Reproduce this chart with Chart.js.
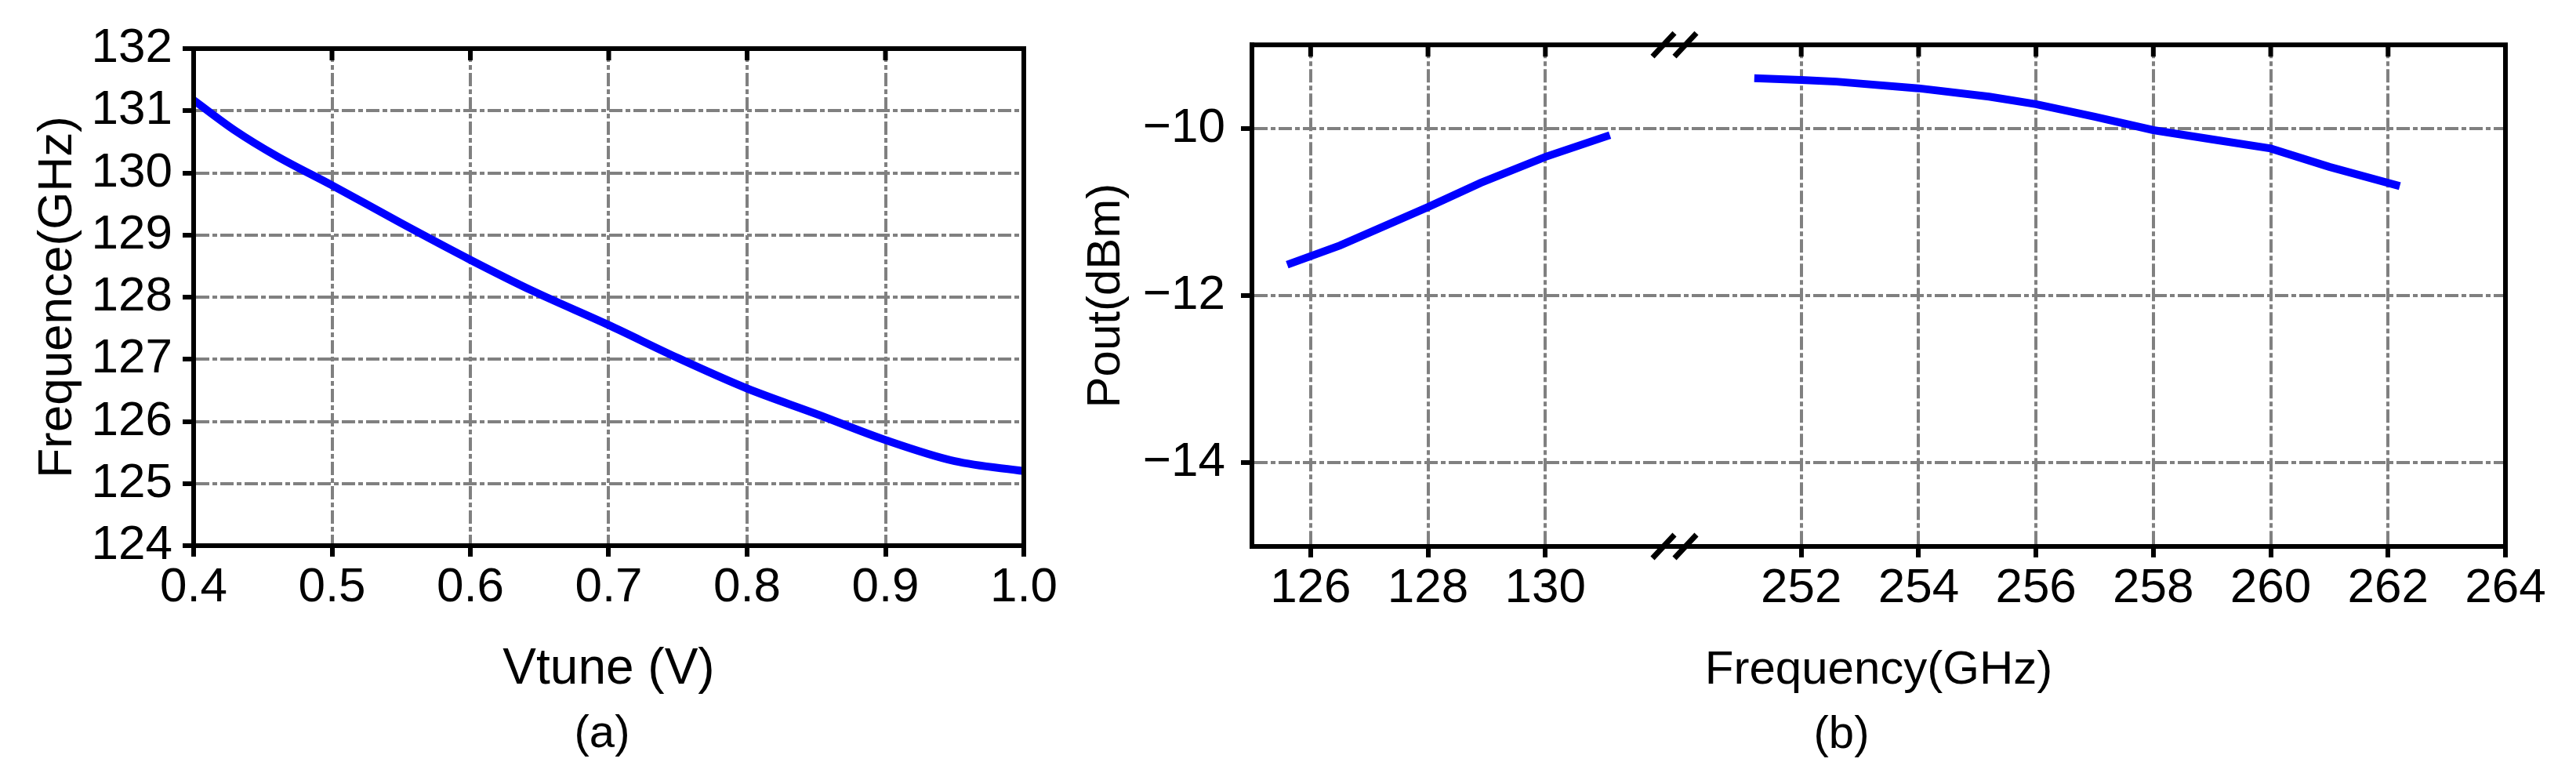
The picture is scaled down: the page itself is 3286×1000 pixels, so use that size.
<!DOCTYPE html>
<html>
<head>
<meta charset="utf-8">
<script src="https://cdn.jsdelivr.net/npm/chart.js@4.4.1/dist/chart.umd.min.js"></script>
<style>
    body { margin: 0; background: #fff; overflow: hidden; }
    .pane { position: absolute; top: 0; }
    .caption {
        position: absolute;
        font-family: 'Liberation Sans', Arial, sans-serif;
        font-size: 58px;
        line-height: 1;
        transform: translate(-50%, -50%);
        color: #000;
    }
</style>
</head>
<body>
<div class="pane" style="left:0;width:1400px;height:1000px"><canvas id="tuneGraph" width="1400" height="1000"></canvas></div>
<div class="pane" style="left:1340px;width:1946px;height:1000px"><canvas id="poutGraph" width="1946" height="1000"></canvas></div>
<div class="caption" style="left:768px;top:933px">(a)</div>
<div class="caption" style="left:2349px;top:934px">(b)</div>
<script>
// (a) tuning curve
const vtune = [0.40, 0.43, 0.46, 0.50, 0.55, 0.60, 0.645, 0.70, 0.75, 0.80, 0.85, 0.90, 0.95, 1.00];
const freqA = [131.17, 130.68, 130.27, 129.80, 129.19, 128.60, 128.10, 127.55, 127.02, 126.53, 126.12, 125.70, 125.36, 125.20];
const vtuneTicks = [0.4, 0.5, 0.6, 0.7, 0.8, 0.9, 1.0];
const freqTicksA = [124, 125, 126, 127, 128, 129, 130, 131, 132];

// (b) output power, fundamental and second harmonic band
const lowFreq = [125.6, 126.5, 128.0, 128.9, 130.0, 131.1];
const lowPout = [-11.63, -11.40, -10.94, -10.65, -10.34, -10.08];
const highFreq = [251.2, 252.0, 252.6, 254.0, 255.2, 256.0, 257.0, 258.0, 259.0, 260.0, 261.0, 262.2];
const highPout = [-9.40, -9.42, -9.44, -9.52, -9.62, -9.71, -9.86, -10.02, -10.13, -10.24, -10.46, -10.69];
const freqTicksB = [126, 128, 130, 252, 254, 256, 258, 260, 262, 264];
const poutTicks = [-10, -12, -14];

// broken x axis: 132.2 GHz and 249.84 GHz meet at the break
const BREAK_LOW = 132.2;
const BREAK_HIGH = 249.84;
const SHIFT = BREAK_HIGH - BREAK_LOW;
const toAxis = g => g > BREAK_LOW ? g - SHIFT : g;

Chart.defaults.font.family = "'Liberation Sans', Arial, sans-serif";
Chart.defaults.color = '#000';

const GRID = '#808080';
const DASH = [17, 4, 6, 4];

// frame, inward ticks on the top edge, and break marks
const framePlugin = {
    id: 'frame',
    afterDatasetsDraw(chart, args, opts) {
        const {ctx, chartArea: a, scales} = chart;
        ctx.save();
        ctx.strokeStyle = '#000';
        ctx.lineWidth = 6;
        ctx.strokeRect(a.left, a.top, a.right - a.left, a.bottom - a.top);

        ctx.beginPath();
        scales.x.ticks.forEach(t => {
            const px = scales.x.getPixelForValue(t.value);
            if (px <= a.left + 2 || px >= a.right - 2) return;
            ctx.moveTo(px, a.top);
            ctx.lineTo(px, a.top + 15);
        });
        ctx.stroke();

        if (opts.breakAt !== undefined) {
            const px = scales.x.getPixelForValue(opts.breakAt);
            ctx.lineWidth = 7;
            ctx.beginPath();
            [a.top, a.bottom].forEach(y => {
                [-14, 14].forEach(dx => {
                    ctx.moveTo(px + dx - 14, y + 15);
                    ctx.lineTo(px + dx + 14, y - 15);
                });
            });
            ctx.stroke();
        }
        ctx.restore();
    }
};

function axisStyle() {
    return {
        grid: {
            color: GRID,
            lineWidth: 4,
            drawTicks: true,
            tickLength: 14,
            tickColor: '#000',
            tickWidth: 6
        },
        border: {
            display: true,
            color: '#000',
            width: 6,
            dash: DASH
        }
    };
}

function createTuneGraph() {
    const ctx = document.getElementById('tuneGraph').getContext('2d');
    const xs = axisStyle();
    const ys = axisStyle();

    new Chart(ctx, {
        type: 'line',
        data: {
            datasets: [{
                label: 'Frequence',
                data: vtune.map((v, i) => ({x: v, y: freqA[i]})),
                borderColor: '#0000ff',
                borderWidth: 10,
                pointRadius: 0,
                cubicInterpolationMode: 'monotone',
                fill: false
            }]
        },
        options: {
            responsive: false,
            animation: false,
            devicePixelRatio: 1,
            layout: {padding: {left: 0, right: 94, top: 62, bottom: 107}},
            plugins: {legend: {display: false}, tooltip: {enabled: false}},
            scales: {
                x: {
                    type: 'linear',
                    min: 0.4,
                    max: 1.0,
                    grid: xs.grid,
                    border: xs.border,
                    afterBuildTicks: s => { s.ticks = vtuneTicks.map(v => ({value: v})); },
                    afterFit: s => { s.height = 197; },
                    ticks: {
                        font: {size: 62},
                        padding: 3,
                        maxRotation: 0,
                        autoSkip: false,
                        callback: v => Number(v).toFixed(1)
                    },
                    title: {
                        display: true,
                        text: 'Vtune (V)',
                        font: {size: 64},
                        padding: {top: 0, bottom: 0}
                    }
                },
                y: {
                    type: 'linear',
                    min: 124,
                    max: 132,
                    grid: ys.grid,
                    border: ys.border,
                    afterBuildTicks: s => { s.ticks = freqTicksA.map(v => ({value: v})); },
                    afterFit: s => { s.width = 247; },
                    ticks: {
                        font: {size: 62},
                        padding: 13,
                        autoSkip: false
                    },
                    title: {
                        display: true,
                        text: 'Frequence(GHz)',
                        font: {size: 62},
                        padding: {top: 37, bottom: 0}
                    }
                }
            }
        },
        plugins: [framePlugin]
    });
}

function createPoutGraph() {
    const ctx = document.getElementById('poutGraph').getContext('2d');
    const xs = axisStyle();
    const ys = axisStyle();

    new Chart(ctx, {
        type: 'line',
        data: {
            datasets: [
                {
                    label: 'Pout 130 GHz',
                    data: lowFreq.map((f, i) => ({x: toAxis(f), y: lowPout[i]})),
                    borderColor: '#0000ff',
                    borderWidth: 10,
                    pointRadius: 0,
                    tension: 0,
                    fill: false
                },
                {
                    label: 'Pout 260 GHz',
                    data: highFreq.map((f, i) => ({x: toAxis(f), y: highPout[i]})),
                    borderColor: '#0000ff',
                    borderWidth: 10,
                    pointRadius: 0,
                    tension: 0,
                    fill: false
                }
            ]
        },
        options: {
            responsive: false,
            animation: false,
            devicePixelRatio: 1,
            layout: {padding: {left: 0, right: 90, top: 44, bottom: 109}},
            plugins: {
                legend: {display: false},
                tooltip: {enabled: false},
                frame: {breakAt: BREAK_LOW}
            },
            scales: {
                x: {
                    type: 'linear',
                    min: 125,
                    max: toAxis(264),
                    grid: xs.grid,
                    border: xs.border,
                    afterBuildTicks: s => { s.ticks = freqTicksB.map(g => ({value: toAxis(g)})); },
                    afterFit: s => { s.height = 194; },
                    ticks: {
                        font: {size: 62},
                        padding: 3,
                        maxRotation: 0,
                        autoSkip: false,
                        callback: v => v > BREAK_LOW ? Math.round(v + SHIFT) : Math.round(v)
                    },
                    title: {
                        display: true,
                        text: 'Frequency(GHz)',
                        font: {size: 60},
                        padding: {top: 0, bottom: 0}
                    }
                },
                y: {
                    type: 'linear',
                    min: -15,
                    max: -9,
                    grid: ys.grid,
                    border: ys.border,
                    afterBuildTicks: s => { s.ticks = poutTicks.map(v => ({value: v})); },
                    afterFit: s => { s.width = 257; },
                    ticks: {
                        font: {size: 62},
                        padding: 20,
                        autoSkip: false,
                        callback: v => v < 0 ? '\u2212' + Math.abs(v) : String(v)
                    },
                    title: {
                        display: true,
                        text: 'Pout(dBm)',
                        font: {size: 60},
                        padding: {top: 35, bottom: 0}
                    }
                }
            }
        },
        plugins: [framePlugin]
    });
}

createTuneGraph();
createPoutGraph();
</script>
</body>
</html>
